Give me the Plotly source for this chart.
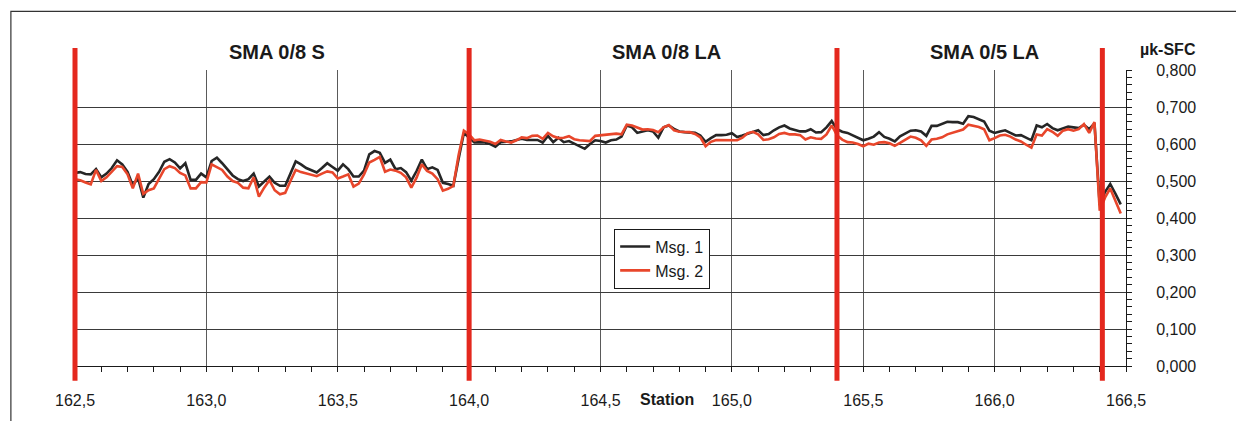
import plotly.graph_objects as go

# ---------------- data ----------------
STATION_START = 162.50
STATION_STEP = 0.02

msg1 = [
    # 162.50 - 163.16
    0.522, 0.524, 0.519, 0.518, 0.532, 0.510, 0.520, 0.535, 0.556, 0.545, 0.525, 0.488, 0.508, 0.455, 0.492, 0.505, 0.525,
    0.552, 0.559, 0.550, 0.534, 0.548, 0.503, 0.503, 0.520, 0.510, 0.554, 0.563, 0.548, 0.530, 0.515, 0.505, 0.500, 0.505,
    # 163.18 - 163.82
    0.520, 0.485, 0.498, 0.512, 0.495, 0.487, 0.487, 0.520, 0.553, 0.545, 0.535, 0.529, 0.523, 0.535, 0.548, 0.538, 0.528,
    0.545, 0.532, 0.512, 0.512, 0.528, 0.572, 0.581, 0.576, 0.549, 0.558, 0.532, 0.535, 0.524, 0.501, 0.527, 0.558,
    # 163.84 - 164.48
    0.532, 0.537, 0.530, 0.495, 0.492, 0.487, 0.560, 0.630, 0.617, 0.604, 0.605, 0.604, 0.600, 0.593, 0.605, 0.606, 0.607,
    0.611, 0.614, 0.611, 0.612, 0.611, 0.604, 0.622, 0.605, 0.617, 0.605, 0.608, 0.601, 0.593, 0.587, 0.600, 0.610,
    # 164.50 - 165.14
    0.608, 0.604, 0.610, 0.612, 0.620, 0.650, 0.645, 0.630, 0.634, 0.637, 0.634, 0.617, 0.645, 0.650, 0.641, 0.634, 0.632,
    0.632, 0.630, 0.623, 0.606, 0.616, 0.624, 0.624, 0.625, 0.629, 0.619, 0.623, 0.628, 0.632, 0.637, 0.624, 0.627,
    # 165.16 - 165.82
    0.637, 0.645, 0.650, 0.642, 0.638, 0.634, 0.634, 0.640, 0.631, 0.632, 0.645, 0.662, 0.640, 0.633, 0.630, 0.624, 0.617,
    0.610, 0.614, 0.620, 0.632, 0.619, 0.614, 0.607, 0.621, 0.628, 0.636, 0.637, 0.634, 0.622, 0.649, 0.649, 0.654, 0.660,
    # 165.84 - 166.48
    0.659, 0.659, 0.655, 0.675, 0.673, 0.667, 0.661, 0.636, 0.630, 0.634, 0.637, 0.630, 0.623, 0.624, 0.618, 0.610, 0.650,
    0.645, 0.654, 0.643, 0.637, 0.643, 0.647, 0.645, 0.643, 0.652, 0.640, 0.656, 0.435, 0.470, 0.492, 0.465, 0.437,
]

msg2 = [
    # 162.50 - 163.16
    0.505, 0.502, 0.496, 0.491, 0.530, 0.500, 0.510, 0.525, 0.540, 0.538, 0.518, 0.480, 0.520, 0.465, 0.475, 0.480, 0.505,
    0.532, 0.540, 0.535, 0.522, 0.515, 0.480, 0.480, 0.497, 0.496, 0.545, 0.538, 0.530, 0.512, 0.500, 0.495, 0.482, 0.480,
    # 163.18 - 163.82
    0.510, 0.458, 0.482, 0.502, 0.475, 0.464, 0.468, 0.500, 0.530, 0.524, 0.521, 0.518, 0.513, 0.520, 0.526, 0.523, 0.507,
    0.512, 0.518, 0.485, 0.493, 0.518, 0.550, 0.557, 0.565, 0.525, 0.531, 0.528, 0.522, 0.510, 0.482, 0.509, 0.545,
    # 163.84 - 164.48
    0.527, 0.520, 0.505, 0.474, 0.479, 0.487, 0.570, 0.636, 0.626, 0.610, 0.612, 0.610, 0.606, 0.600, 0.611, 0.607, 0.604,
    0.610, 0.618, 0.616, 0.622, 0.623, 0.614, 0.630, 0.621, 0.616, 0.617, 0.621, 0.613, 0.610, 0.608, 0.608, 0.622,
    # 164.50 - 165.14
    0.623, 0.624, 0.627, 0.628, 0.626, 0.652, 0.650, 0.644, 0.639, 0.640, 0.638, 0.632, 0.645, 0.651, 0.637, 0.633, 0.632,
    0.632, 0.627, 0.618, 0.594, 0.606, 0.611, 0.611, 0.610, 0.610, 0.610, 0.617, 0.629, 0.633, 0.626, 0.611, 0.613,
    # 165.16 - 165.82
    0.618, 0.627, 0.630, 0.626, 0.626, 0.624, 0.612, 0.618, 0.615, 0.614, 0.626, 0.650, 0.624, 0.612, 0.605, 0.604, 0.600,
    0.594, 0.601, 0.598, 0.604, 0.605, 0.602, 0.595, 0.603, 0.612, 0.620, 0.617, 0.610, 0.595, 0.612, 0.614, 0.618, 0.626,
    # 165.84 - 166.48
    0.631, 0.636, 0.639, 0.652, 0.650, 0.646, 0.640, 0.610, 0.616, 0.623, 0.625, 0.620, 0.612, 0.607, 0.598, 0.590, 0.626,
    0.623, 0.640, 0.633, 0.622, 0.636, 0.640, 0.636, 0.640, 0.654, 0.630, 0.659, 0.420, 0.455, 0.480, 0.447, 0.412,
]

stations = [round(STATION_START + i * STATION_STEP, 2) for i in range(len(msg1))]

section_bounds = [162.5, 164.0, 165.4, 166.41]
section_labels = ["SMA 0/8 S", "SMA 0/8 LA", "SMA 0/5 LA"]
section_label_pos = [163.27, 164.75, 165.96]

X_RANGE = [162.5, 166.5]
Y_RANGE = [0.0, 0.8]

FONT = "Liberation Sans, Arial, sans-serif"
BLACK = "#262626"
ORANGE = "#e8462b"
RED = "#e4281e"

fig = go.Figure()
fig.add_trace(go.Scatter(x=stations, y=msg1, mode="lines", name="Msg. 1",
                         line=dict(color=BLACK, width=2.6)))
fig.add_trace(go.Scatter(x=stations, y=msg2, mode="lines", name="Msg. 2",
                         line=dict(color=ORANGE, width=2.6)))

shapes = []
# outer frame (extends past the right and bottom edges)
shapes.append(dict(type="rect", xref="paper", yref="paper", x0=-0.061, x1=1.2,
                   y0=-0.4, y1=1.198, line=dict(color="#333333", width=1.2), layer="below"))
# red section boundaries
for b in section_bounds:
    xp = (b - X_RANGE[0]) / (X_RANGE[1] - X_RANGE[0])
    shapes.append(dict(type="line", xref="paper", yref="paper", x0=xp, x1=xp,
                       y0=-0.05, y1=1.074, line=dict(color=RED, width=5), layer="above"))

annotations = []
for lab, pos in zip(section_labels, section_label_pos):
    annotations.append(dict(x=pos, y=1.062, xref="x", yref="paper", text=f"<b>{lab}</b>",
                            showarrow=False, font=dict(family=FONT, size=20, color="#1a1a1a"),
                            xanchor="center", yanchor="middle"))
annotations.append(dict(x=1.04, y=1.068, xref="paper", yref="paper", text="<b>µk-SFC</b>",
                        showarrow=False, font=dict(family=FONT, size=16, color="#1a1a1a"),
                        xanchor="center", yanchor="middle"))
annotations.append(dict(x=0.5633, y=-0.114, xref="paper", yref="paper", text="<b>Station</b>",
                        showarrow=False, font=dict(family=FONT, size=16, color="#1a1a1a"),
                        xanchor="center", yanchor="middle"))

fig.update_layout(
    width=1236, height=413,
    margin=dict(l=67, r=118, t=62, b=53),
    paper_bgcolor="white", plot_bgcolor="white",
    separators=",.",
    font=dict(family=FONT, size=16, color="#1a1a1a"),
    showlegend=True,
    legend=dict(x=0.513, y=0.464, xanchor="left", yanchor="top",
                bgcolor="white", bordercolor="#1a1a1a", borderwidth=1,
                font=dict(family=FONT, size=16, color="#1a1a1a"),
                tracegroupgap=0, itemwidth=30),
    shapes=shapes,
    annotations=annotations,
)

fig.update_xaxes(
    range=X_RANGE, tick0=162.5, dtick=0.5, tickformat=".1f",
    showgrid=True, gridcolor="#5a5a5a", gridwidth=1,
    showline=True, linecolor="#1a1a1a", linewidth=1,
    ticks="outside", ticklen=5, tickcolor="#1a1a1a",
    ticklabelstandoff=15,
    zeroline=False,
    minor=dict(dtick=0.1, tick0=162.5, ticks="outside", ticklen=5, tickcolor="#1a1a1a", showgrid=False),
    tickfont=dict(family=FONT, size=16, color="#1a1a1a"),
)
fig.update_yaxes(
    range=Y_RANGE, side="right", dtick=0.1, tick0=0, tickformat=".3f",
    showgrid=True, gridcolor="#3a3a3a", gridwidth=1,
    showline=True, linecolor="#1a1a1a", linewidth=1,
    ticks="outside", ticklen=5, tickcolor="#1a1a1a",
    ticklabelstandoff=21,
    zeroline=False,
    minor=dict(dtick=0.02, tick0=0, ticks="outside", ticklen=5, tickcolor="#1a1a1a", showgrid=False),
    tickfont=dict(family=FONT, size=16, color="#1a1a1a"),
)

fig.write_html("out.html")
